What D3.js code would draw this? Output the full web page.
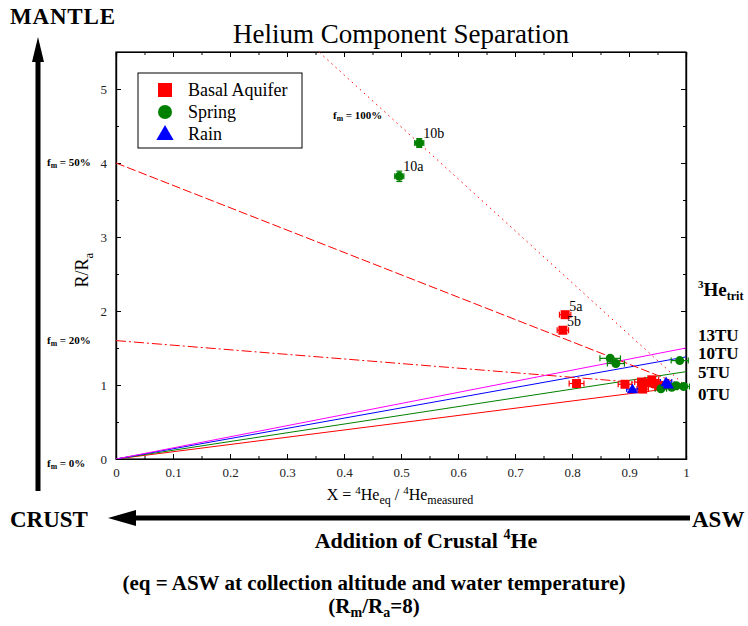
<!DOCTYPE html>
<html>
<head>
<meta charset="utf-8">
<script src="https://cdn.jsdelivr.net/npm/d3@7"></script>
<style>
  body { margin: 0; background: #fff; }
  svg, svg text { font-family: "Liberation Serif", "Times New Roman", Times, serif !important; }
</style>
</head>
<body>
<div id="chart"></div>
<script>
// sample values
const basalLabels = ["5a", "5b", "", "", "", "", "", "", "", ""];
const basalX    = [0.788, 0.784, 0.808, 0.893, 0.922, 0.924, 0.934, 0.940, 0.946, 0.952];
const basalY    = [1.95, 1.74, 1.02, 1.01, 1.04, 0.945, 1.03, 1.07, 1.02, 0.99];
const basalXErr = [0.010, 0.010, 0.013, 0.012, 0.012, 0.010, 0.010, 0.012, 0.010, 0.010];

const springLabels = ["10a", "10b", "", "", "", "", "", "", ""];
const springX    = [0.497, 0.532, 0.867, 0.877, 0.989, 0.956, 0.975, 0.983, 0.996];
const springY    = [3.82, 4.27, 1.36, 1.29, 1.33, 0.95, 0.97, 0.99, 0.98];
const springXErr = [0.008, 0.008, 0.018, 0.015, 0.015, 0.010, 0.010, 0.010, 0.010];
const springYErr = [0.07, 0.06, 0, 0, 0, 0, 0, 0, 0];

const rainX    = [0.906, 0.965, 0.969];
const rainY    = [0.945, 1.04, 1.01];
const rainXErr = [0.010, 0.010, 0.010];

// tritium mixing lines (X=0 -> X=1)
const tritLabels = ["0TU", "5TU", "10TU", "13TU"];
const tritEnd    = [0.98, 1.18, 1.38, 1.50];
const tritColors = ["red", "green", "blue", "magenta"];

// mantle fraction mixing lines
const fmLabels = ["f_m = 100%", "f_m = 50%", "f_m = 20%", "f_m = 0%"];
const fmStart  = [8, 4, 1.6, 0];
const fmEnd    = 0.98;
const fmDash   = ["1.5,4", "9,3", "10,3,2,3", null];

const xTicks = [0, 0.1, 0.2, 0.3, 0.4, 0.5, 0.6, 0.7, 0.8, 0.9, 1];
const yTicks = [0, 1, 2, 3, 4, 5];

const W = 748, H = 626;
const margin = { top: 52, right: 62, bottom: 167, left: 116 };
const plotW = W - margin.left - margin.right,
      plotH = H - margin.top - margin.bottom;

const svg = d3.select("#chart").append("svg")
  .attr("width", W).attr("height", H);

svg.append("defs").append("clipPath").attr("id", "clip")
  .append("rect").attr("width", plotW).attr("height", plotH);

const g = svg.append("g")
  .attr("transform", `translate(${margin.left}, ${margin.top})`);

const x = d3.scaleLinear().domain([0, 1]).range([0, plotW]);
const y = d3.scaleLinear().domain([0, 5.5]).range([plotH, 0]);

// title
svg.append("text")
  .attr("x", 401).attr("y", 43)
  .attr("text-anchor", "middle")
  .attr("font-size", 27)
  .text("Helium Component Separation");

// axes, ticks pointing inward on all four sides
const minorX = d3.range(0.05, 1, 0.1);
const minorY = d3.range(0.5, 5.5, 1);

g.append("g").attr("transform", `translate(0, ${plotH})`)
  .call(d3.axisBottom(x).tickValues(xTicks).tickSizeInner(-5).tickSizeOuter(0).tickPadding(9)
    .tickFormat(d => d === 0 || d === 1 ? d3.format("d")(d) : d3.format(".1f")(d)))
  .call(a => a.selectAll("text").attr("font-size", 13).attr("fill", "#222"));
g.append("g").attr("transform", `translate(0, ${plotH})`)
  .call(d3.axisBottom(x).tickValues(minorX).tickSize(-3).tickFormat(""));
g.append("g")
  .call(d3.axisTop(x).tickValues(xTicks).tickSize(-5).tickFormat(""));
g.append("g")
  .call(d3.axisTop(x).tickValues(minorX).tickSize(-3).tickFormat(""));

g.append("g")
  .call(d3.axisLeft(y).tickValues(yTicks).tickSizeInner(-5).tickSizeOuter(0).tickPadding(9)
    .tickFormat(d3.format("d")))
  .call(a => a.selectAll("text").attr("font-size", 13).attr("fill", "#222"));
g.append("g")
  .call(d3.axisLeft(y).tickValues(minorY).tickSize(-3).tickFormat(""));
g.append("g").attr("transform", `translate(${plotW}, 0)`)
  .call(d3.axisRight(y).tickValues(yTicks).tickSize(-5).tickFormat(""));
g.append("g").attr("transform", `translate(${plotW}, 0)`)
  .call(d3.axisRight(y).tickValues(minorY).tickSize(-3).tickFormat(""));

g.selectAll(".domain").attr("stroke", "#000").attr("stroke-width", 1.2);
g.append("rect").attr("width", plotW).attr("height", plotH)
  .attr("fill", "none").attr("stroke", "#000").attr("stroke-width", 1.2);

// mixing lines
const lines = g.append("g").attr("clip-path", "url(#clip)");

lines.selectAll(".trit")
  .data(tritEnd)
  .enter().append("line")
  .attr("class", "trit")
  .attr("x1", x(0)).attr("y1", y(0))
  .attr("x2", x(1)).attr("y2", d => y(d))
  .attr("stroke", (d, i) => tritColors[i])
  .attr("stroke-width", 1);

lines.selectAll(".fm")
  .data(fmStart.slice(0, 3))
  .enter().append("line")
  .attr("class", "fm")
  .attr("x1", x(0)).attr("y1", d => y(d))
  .attr("x2", x(1)).attr("y2", y(fmEnd))
  .attr("stroke", "red")
  .attr("stroke-width", 1)
  .attr("stroke-dasharray", (d, i) => fmDash[i]);

// error bars + markers
function errorBars(xs, ys, xe, ye, color) {
  const eg = g.append("g").attr("stroke", color).attr("stroke-width", 1.2);
  xs.forEach((xv, i) => {
    const cy = y(ys[i]);
    eg.append("line").attr("x1", x(xv - xe[i])).attr("x2", x(xv + xe[i]))
      .attr("y1", cy).attr("y2", cy);
    [xv - xe[i], xv + xe[i]].forEach(v => {
      eg.append("line").attr("x1", x(v)).attr("x2", x(v))
        .attr("y1", cy - 3).attr("y2", cy + 3);
    });
    if (ye && ye[i] > 0) {
      eg.append("line").attr("x1", x(xv)).attr("x2", x(xv))
        .attr("y1", y(ys[i] - ye[i])).attr("y2", y(ys[i] + ye[i]));
      [ys[i] - ye[i], ys[i] + ye[i]].forEach(v => {
        eg.append("line").attr("x1", x(xv) - 3).attr("x2", x(xv) + 3)
          .attr("y1", y(v)).attr("y2", y(v));
      });
    }
  });
}

errorBars(basalX, basalY, basalXErr, null, "red");
errorBars(springX, springY, springXErr, springYErr, "green");
errorBars(rainX, rainY, rainXErr, null, "blue");

g.selectAll(".basal")
  .data(basalX)
  .enter().append("rect")
  .attr("class", "basal")
  .attr("x", d => x(d) - 4.5)
  .attr("y", (d, i) => y(basalY[i]) - 4.5)
  .attr("width", 9).attr("height", 9)
  .attr("fill", "red");

g.selectAll(".spring")
  .data(springX)
  .enter().append("circle")
  .attr("class", "spring")
  .attr("cx", d => x(d))
  .attr("cy", (d, i) => y(springY[i]))
  .attr("r", 4.5)
  .attr("fill", "green");

const tri = d3.symbol().type(d3.symbolTriangle).size(55);
g.selectAll(".rain")
  .data(rainX)
  .enter().append("path")
  .attr("class", "rain")
  .attr("d", tri)
  .attr("transform", (d, i) => `translate(${x(d)}, ${y(rainY[i]) + 1})`)
  .attr("fill", "blue");

// point labels
const ptLabels = [
  ...basalLabels.map((t, i) => ({ t, xv: basalX[i], yv: basalY[i] })),
  ...springLabels.map((t, i) => ({ t, xv: springX[i], yv: springY[i] }))
].filter(d => d.t);

g.selectAll(".ptlab")
  .data(ptLabels)
  .enter().append("text")
  .attr("class", "ptlab")
  .attr("x", d => x(d.xv) + 4)
  .attr("y", d => y(d.yv) - (d.t.startsWith("5") ? 4 : 5))
  .attr("font-size", 14)
  .text(d => d.t);

// legend
const legend = g.append("g").attr("transform", "translate(22, 21)");
legend.append("rect").attr("width", 164).attr("height", 75)
  .attr("fill", "#fff").attr("stroke", "#000").attr("stroke-width", 1);
const legItems = [
  { name: "Basal Aquifer", color: "red", shape: "square" },
  { name: "Spring", color: "green", shape: "circle" },
  { name: "Rain", color: "blue", shape: "triangle" }
];
legItems.forEach((d, i) => {
  const cy = 17 + i * 22;
  if (d.shape === "square") {
    legend.append("rect").attr("x", 20).attr("y", cy - 7).attr("width", 14).attr("height", 14).attr("fill", d.color);
  } else if (d.shape === "circle") {
    legend.append("circle").attr("cx", 27).attr("cy", cy).attr("r", 7).attr("fill", d.color);
  } else {
    legend.append("path").attr("d", d3.symbol().type(d3.symbolTriangle).size(130))
      .attr("transform", `translate(27, ${cy + 1})`).attr("fill", d.color);
  }
  legend.append("text").attr("x", 50).attr("y", cy + 6)
    .attr("font-size", 18).text(d.name);
});

// f_m labels
function fmText(sel, label, size) {
  const parts = label.split("_m");
  sel.attr("font-size", size).attr("font-weight", "bold");
  sel.append("tspan").text(parts[0]);
  sel.append("tspan").attr("font-size", size * 0.7).attr("dy", 2).text("m");
  sel.append("tspan").attr("dy", -2).text(parts[1]);
}
fmText(g.append("text").attr("x", 217).attr("y", y(5.0) + 30), fmLabels[0], 11);
fmLabels.slice(1).forEach((lab, i) => {
  const yy = i === 2 ? y(fmStart[i + 1]) + 8 : y(fmStart[i + 1]) + 3;
  fmText(svg.append("text").attr("x", 47).attr("y", margin.top + yy), lab, 11);
});

// tritium labels on the right
const tritLabY = [400, 378, 359, 341];
tritLabels.forEach((t, i) => {
  svg.append("text").attr("x", 698).attr("y", tritLabY[i])
    .attr("font-size", 17).attr("font-weight", "bold").text(t);
});
const he3 = svg.append("text").attr("x", 698).attr("y", 296)
  .attr("font-size", 19).attr("font-weight", "bold");
he3.append("tspan").attr("font-size", 11).attr("dy", -8).text("3");
he3.append("tspan").attr("dy", 8).text("He");
he3.append("tspan").attr("font-size", 12).attr("dy", 4).text("trit");

// axis titles
const xl = svg.append("text").attr("x", 400).attr("y", 500)
  .attr("text-anchor", "middle").attr("font-size", 16);
xl.append("tspan").text("X = ");
xl.append("tspan").attr("font-size", 11).attr("dy", -6).text("4");
xl.append("tspan").attr("dy", 6).text("He");
xl.append("tspan").attr("font-size", 12).attr("dy", 4).text("eq");
xl.append("tspan").attr("dy", -4).text(" / ");
xl.append("tspan").attr("font-size", 11).attr("dy", -6).text("4");
xl.append("tspan").attr("dy", 6).text("He");
xl.append("tspan").attr("font-size", 12).attr("dy", 4).text("measured");

const yl = svg.append("text")
  .attr("transform", "translate(88, 270) rotate(-90)")
  .attr("text-anchor", "middle").attr("font-size", 18);
yl.append("tspan").text("R/R");
yl.append("tspan").attr("font-size", 13).attr("dy", 5).text("a");

// big arrows
svg.append("line").attr("x1", 38).attr("x2", 38).attr("y1", 491).attr("y2", 58)
  .attr("stroke", "#000").attr("stroke-width", 5);
svg.append("path").attr("d", "M38,37 L32,62 L44,62 Z").attr("fill", "#000");
svg.append("line").attr("x1", 690).attr("x2", 130).attr("y1", 518).attr("y2", 518)
  .attr("stroke", "#000").attr("stroke-width", 5);
svg.append("path").attr("d", "M108,518 L136,510 L136,526 Z").attr("fill", "#000");

svg.append("text").attr("x", 10).attr("y", 24)
  .attr("font-size", 23).attr("font-weight", "bold").attr("textLength", 105).text("MANTLE");
svg.append("text").attr("x", 10).attr("y", 527)
  .attr("font-size", 23).attr("font-weight", "bold").text("CRUST");
svg.append("text").attr("x", 692).attr("y", 527)
  .attr("font-size", 23).attr("font-weight", "bold").text("ASW");

const add = svg.append("text").attr("x", 426).attr("y", 548)
  .attr("text-anchor", "middle").attr("font-size", 22).attr("font-weight", "bold");
add.append("tspan").text("Addition of Crustal ");
add.append("tspan").attr("font-size", 14).attr("dy", -9).text("4");
add.append("tspan").attr("dy", 9).text("He");

svg.append("text").attr("x", 374).attr("y", 590)
  .attr("text-anchor", "middle").attr("font-size", 21).attr("font-weight", "bold")
  .text("(eq = ASW at collection altitude and water temperature)");
const rm = svg.append("text").attr("x", 374).attr("y", 613)
  .attr("text-anchor", "middle").attr("font-size", 21).attr("font-weight", "bold");
rm.append("tspan").text("(R");
rm.append("tspan").attr("font-size", 14).attr("dy", 4).text("m");
rm.append("tspan").attr("dy", -4).text("/R");
rm.append("tspan").attr("font-size", 14).attr("dy", 4).text("a");
rm.append("tspan").attr("dy", -4).text("=8)");
</script>
</body>
</html>
